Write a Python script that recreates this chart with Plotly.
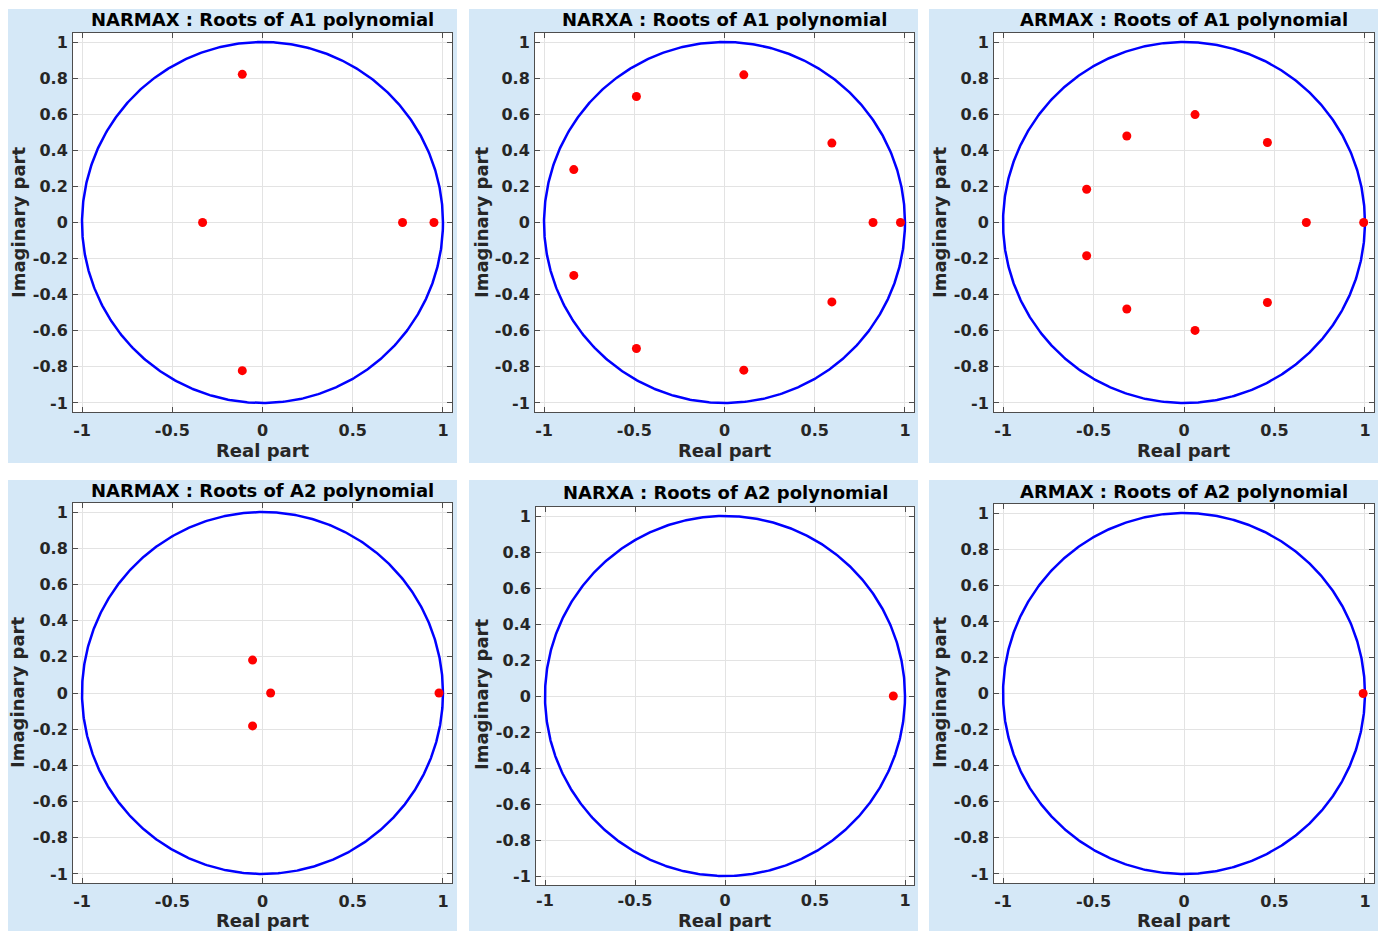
import numpy as np
import plotly.graph_objects as go

# ---------------- data ----------------
panel_titles = [
    "NARMAX : Roots of A1 polynomial",
    "NARXA : Roots of A1 polynomial",
    "ARMAX : Roots of A1 polynomial",
    "NARMAX : Roots of A2 polynomial",
    "NARXA : Roots of A2 polynomial",
    "ARMAX : Roots of A2 polynomial",
]

narmax_a1_re = [-0.112, -0.112, -0.332, 0.776, 0.950]
narmax_a1_im = [0.821, -0.821, 0.0, 0.0, 0.0]

narxa_a1_re = [0.107, 0.107, -0.488, -0.488, -0.835, -0.835, 0.595, 0.595, 0.823, 0.975]
narxa_a1_im = [0.818, -0.818, 0.698, -0.698, 0.293, -0.293, 0.440, -0.440, 0.0, 0.0]

armax_a1_re = [0.061, 0.061, -0.316, -0.316, 0.461, 0.461, -0.538, -0.538, 0.676, 0.993]
armax_a1_im = [0.598, -0.598, 0.479, -0.479, 0.443, -0.443, 0.184, -0.184, 0.0, 0.0]

narmax_a2_re = [-0.055, -0.055, 0.045, 0.978]
narmax_a2_im = [0.182, -0.182, 0.0, 0.0]

narxa_a2_re = [0.935]
narxa_a2_im = [0.0]

armax_a2_re = [0.990]
armax_a2_im = [0.0]

roots_re = [narmax_a1_re, narxa_a1_re, armax_a1_re, narmax_a2_re, narxa_a2_re, armax_a2_re]
roots_im = [narmax_a1_im, narxa_a1_im, armax_a1_im, narmax_a2_im, narxa_a2_im, armax_a2_im]

x_tickvals = [-1, -0.5, 0, 0.5, 1]
x_ticktext = ["-1", "-0.5", "0", "0.5", "1"]
y_tickvals = [-1, -0.8, -0.6, -0.4, -0.2, 0, 0.2, 0.4, 0.6, 0.8, 1]
y_ticktext = ["-1", "-0.8", "-0.6", "-0.4", "-0.2", "0", "0.2", "0.4", "0.6", "0.8", "1"]

x_label = "Real part"
y_label = "Imaginary part"

# ---------------- layout geometry (pixels) ----------------
W, H = 1385, 931
# axes boxes: (left, right, top, bottom)
axes_px = [
    (73, 452, 33, 412),
    (535, 914, 33, 412),
    (994, 1374, 33, 412),
    (73, 452, 503, 883),
    (536, 914, 507, 885),
    (994, 1374, 504, 883),
]
# light-blue panel backgrounds
panels_px = [
    (8, 457, 9, 463),
    (469, 918, 9, 463),
    (929, 1378, 9, 463),
    (8, 457, 480, 931),
    (469, 918, 480, 931),
    (929, 1378, 480, 931),
]
title_y = [20, 20, 20, 490, 493, 491]
xlab_y = [451, 451, 451, 920, 920, 920]
x_standoff = [4, 4, 4, 4, 1, 4]
ylab_x = [18, 481, 939, 17, 481, 939]
ylab_y = [223, 223, 223, 693, 695, 693]

FONT = "DejaVu Sans"
BG_BLUE = "#D5E8F7"
AX_COL = "#4D4D4D"
TXT = "#262626"


def px_x(v):
    return v / W


def px_y(v):
    return 1 - v / H


fig = go.Figure()

theta = np.linspace(0, 2 * np.pi, 721)
unit_re = np.cos(theta)
unit_im = np.sin(theta)

shapes = []
annotations = []
layout_axes = {}

for i in range(6):
    n = "" if i == 0 else str(i + 1)
    xa, ya = "x" + n, "y" + n
    l, r, t, b = axes_px[i]

    fig.add_trace(go.Scatter(x=unit_re, y=unit_im, mode="lines",
                             line=dict(color="#0000FF", width=2.5),
                             xaxis=xa, yaxis=ya, hoverinfo="skip", showlegend=False))
    fig.add_trace(go.Scatter(x=roots_re[i], y=roots_im[i], mode="markers",
                             marker=dict(color="#FF0000", size=9, symbol="circle"),
                             xaxis=xa, yaxis=ya, showlegend=False))

    common = dict(
        showgrid=True, gridcolor="#E3E3E3", gridwidth=1,
        zeroline=False, showline=True, linecolor=AX_COL, linewidth=1,
        mirror="ticks", ticks="inside", ticklen=5, tickcolor=AX_COL, tickwidth=1,
        tickfont=dict(family=FONT, size=16, color=TXT, weight="bold"),
        range=[-1.05, 1.05], fixedrange=True,
    )
    layout_axes["xaxis" + n] = dict(common, domain=[px_x(l), px_x(r)], anchor=ya,
                                    tickvals=x_tickvals, ticktext=x_ticktext,
                                    ticklabelstandoff=x_standoff[i])
    layout_axes["yaxis" + n] = dict(common, domain=[px_y(b), px_y(t)], anchor=xa,
                                    tickvals=y_tickvals, ticktext=y_ticktext,
                                    ticklabelstandoff=1)

    pl, pr, pt, pb = panels_px[i]
    shapes.append(dict(type="rect", xref="paper", yref="paper", layer="below",
                       x0=px_x(pl), x1=px_x(pr), y0=px_y(pb), y1=px_y(pt),
                       fillcolor=BG_BLUE, line=dict(width=0)))
    shapes.append(dict(type="rect", xref="paper", yref="paper", layer="below",
                       x0=px_x(l), x1=px_x(r), y0=px_y(b), y1=px_y(t),
                       fillcolor="white", line=dict(width=0)))

    annotations.append(dict(text=panel_titles[i], xref="paper", yref="paper",
                            x=px_x((l + r) / 2), y=px_y(title_y[i]),
                            xanchor="center", yanchor="middle", showarrow=False,
                            font=dict(family=FONT, size=18, color="black", weight="bold")))
    annotations.append(dict(text=x_label, xref="paper", yref="paper",
                            x=px_x((l + r) / 2), y=px_y(xlab_y[i]),
                            xanchor="center", yanchor="middle", showarrow=False,
                            font=dict(family=FONT, size=18, color=TXT, weight="bold")))
    annotations.append(dict(text=y_label, xref="paper", yref="paper",
                            x=px_x(ylab_x[i]), y=px_y(ylab_y[i]), textangle=-90,
                            xanchor="center", yanchor="middle", showarrow=False,
                            font=dict(family=FONT, size=18, color=TXT, weight="bold")))

fig.update_layout(
    width=W, height=H,
    margin=dict(l=0, r=0, t=0, b=0),
    paper_bgcolor="white", plot_bgcolor="white",
    shapes=shapes, annotations=annotations,
    showlegend=False,
    **layout_axes,
)

fig.write_html("out.html", config={"displayModeBar": False},
               post_script="document.body.style.margin='0px';document.body.style.overflow='hidden';")
